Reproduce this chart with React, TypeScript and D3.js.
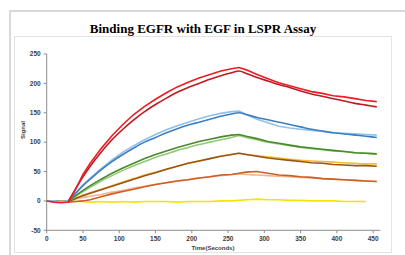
import React from "react"
import * as d3 from "d3"

// time points (seconds)
const time = [0, 10, 20, 30, 40, 50, 60, 75, 90, 105, 120, 135, 150, 165, 180, 195, 210, 225, 240, 255, 265, 275, 290, 305, 320, 335, 350, 365, 380, 395, 410, 425, 440, 455]

// measured signal (noisy) and fitted curves, one pair per concentration
const redData = [0, -2, -3, -2, 20, 45, 64, 89, 111, 130, 147, 161, 173, 184, 194, 202, 209, 215, 221, 225, 227, 223, 215, 208, 201, 196, 191, 186, 183, 179, 177, 174, 171, 169]
const redFit = [null, null, null, 0, 21, 41, 59, 83, 104, 122, 138, 152, 164, 175, 185, 193, 200, 207, 213, 218, 221, 217, 210, 204, 198, 193, 187, 182, 178, 174, 170, 166, 163, 160]
const blueData = [0, 0, -1, 0, 14, 27, 39, 55, 70, 83, 94, 104, 113, 121, 128, 134, 140, 145, 149, 152, 153, 147, 139, 133, 127, 124, 122, 120, 118, 116, 115, 114, 113, 112]
const blueFit = [null, null, null, 0, 13, 26, 37, 53, 67, 79, 90, 100, 108, 116, 123, 129, 134, 139, 144, 148, 150, 147, 142, 138, 134, 130, 126, 122, 119, 116, 114, 112, 110, 108]
const greenData = [0, 0, -1, 0, 9, 18, 26, 37, 47, 56, 64, 72, 79, 85, 91, 96, 101, 105, 109, 112, 113, 110, 106, 101, 98, 95, 92, 90, 88, 86, 84, 82, 81, 80]
const greenFit = [null, null, null, 0, 8, 16, 23, 34, 43, 52, 60, 67, 74, 80, 86, 91, 96, 100, 104, 108, 111, 108, 104, 100, 97, 94, 91, 89, 87, 85, 84, 82, 81, 80]
const orangeData = [0, 0, -1, -1, 4, 9, 13, 19, 25, 31, 37, 43, 48, 54, 59, 64, 68, 72, 76, 79, 81, 79, 76, 73, 71, 69, 67, 65, 64, 62, 61, 60, 60, 59]
const orangeFit = [null, null, null, 0, 5, 10, 14, 20, 26, 32, 38, 44, 49, 54, 59, 64, 68, 72, 76, 79, 81, 79, 77, 75, 73, 71, 69, 68, 67, 66, 65, 64, 63, 63]
const rustData = [0, -1, -2, -2, -1, 0, 2, 7, 12, 16, 20, 24, 28, 31, 34, 36, 39, 41, 44, 45, 47, 49, 50, 47, 44, 43, 41, 40, 38, 37, 36, 35, 34, 33]
const rustFit = [null, null, null, 0, 3, 6, 8, 11, 15, 18, 22, 25, 28, 31, 34, 36, 39, 41, 43, 45, 46, 45, 44, 43, 42, 41, 40, 39, 38, 37, 36, 35, 34, 33]
const yellowData = [0, 0, 0, 0, -1, -1, -2, -1, -2, -1, -2, -1, -1, -1, -2, -1, -1, -1, 0, 0, 1, 2, 3, 2, 2, 1, 1, 0, 0, 0, -1, -1, -1, null]

const series = [
  { values: yellowData, color: "#f2e600", curve: d3.curveLinear },
  { values: rustFit, color: "#f3b48e", curve: d3.curveMonotoneX },
  { values: rustData, color: "#cc5f26", curve: d3.curveLinear },
  { values: orangeFit, color: "#f6ba3c", curve: d3.curveMonotoneX },
  { values: orangeData, color: "#9a5418", curve: d3.curveLinear },
  { values: greenFit, color: "#93c97a", curve: d3.curveMonotoneX },
  { values: greenData, color: "#4b8a2c", curve: d3.curveLinear },
  { values: blueData, color: "#92c0e6", curve: d3.curveLinear },
  { values: blueFit, color: "#3b7fc2", curve: d3.curveMonotoneX },
  { values: redFit, color: "#bd1b22", curve: d3.curveMonotoneX },
  { values: redData, color: "#ec1c24", curve: d3.curveLinear }
]

const yTicks = [-50, 0, 50, 100, 150, 200, 250]
const xTicks = [0, 50, 100, 150, 200, 250, 300, 350, 400, 450]

export default function App() {
  const width = 405
  const height = 255

  const x = d3.scaleLinear().domain([0, 460]).range([46.7, 380.4])
  const y = d3.scaleLinear().domain([-50, 250]).range([230.3, 54])

  const axisColor = "#8c8c8c"
  const font = "'Liberation Sans', Arial, sans-serif"

  return (
    <svg width={width} height={height} style={{ position: "absolute", left: 0, top: 0, background: "#fff" }}>
      {/* outer frame + chart area */}
      <rect x={10} y={11} width={420} height={270} fill="#fff" stroke="#d9d9d9" strokeWidth={2} />
      <rect x={14.5} y={36.5} width={377} height={216} fill="#fff" stroke="#e3e3e3" strokeWidth={1} />

      <text x={203} y={33} textAnchor="middle" fontFamily="'Liberation Serif', 'Times New Roman', serif"
        fontWeight="bold" fontSize={13} fill="#000">Binding EGFR with EGF in LSPR Assay</text>

      {/* y axis */}
      <line x1={x(0)} x2={x(0)} y1={y(-50)} y2={y(250)} stroke={axisColor} strokeWidth={1} />
      {yTicks.map(t => (
        <g key={t}>
          <line x1={x(0) - 3} x2={x(0)} y1={y(t)} y2={y(t)} stroke={axisColor} />
          <text x={x(0) - 6} y={y(t) + 2.3} textAnchor="end" fontFamily={font} fontWeight="bold"
            fontSize={6.5} fill="#404040">{t}</text>
        </g>
      ))}

      {/* x axis */}
      <line x1={x(0)} x2={x(460)} y1={y(-50)} y2={y(-50)} stroke={axisColor} strokeWidth={1} />
      {xTicks.map(t => (
        <g key={t}>
          <line x1={x(t)} x2={x(t)} y1={y(-50)} y2={y(-50) + 3} stroke={axisColor} />
          <text x={x(t)} y={y(-50) + 11} textAnchor="middle" fontFamily={font} fontWeight="bold"
            fontSize={6.5} fill="#404040">{t}</text>
        </g>
      ))}

      <text x={213} y={250} textAnchor="middle" fontFamily={font} fontWeight="bold" fontSize={6}
        fill="#404040">Time(Seconds)</text>
      <text transform={`translate(25,130) rotate(-90)`} textAnchor="middle" fontFamily={font}
        fontWeight="bold" fontSize={6} fill="#404040">Signal</text>

      {/* curves */}
      {series.map((s, i) => {
        const line = d3.line<number | null>()
          .defined(d => d !== null)
          .x((_, j) => x(time[j]))
          .y(d => y(d as number))
          .curve(s.curve)
        return <path key={i} d={line(s.values) || ""} fill="none" stroke={s.color} strokeWidth={1.6} />
      })}
    </svg>
  )
}
